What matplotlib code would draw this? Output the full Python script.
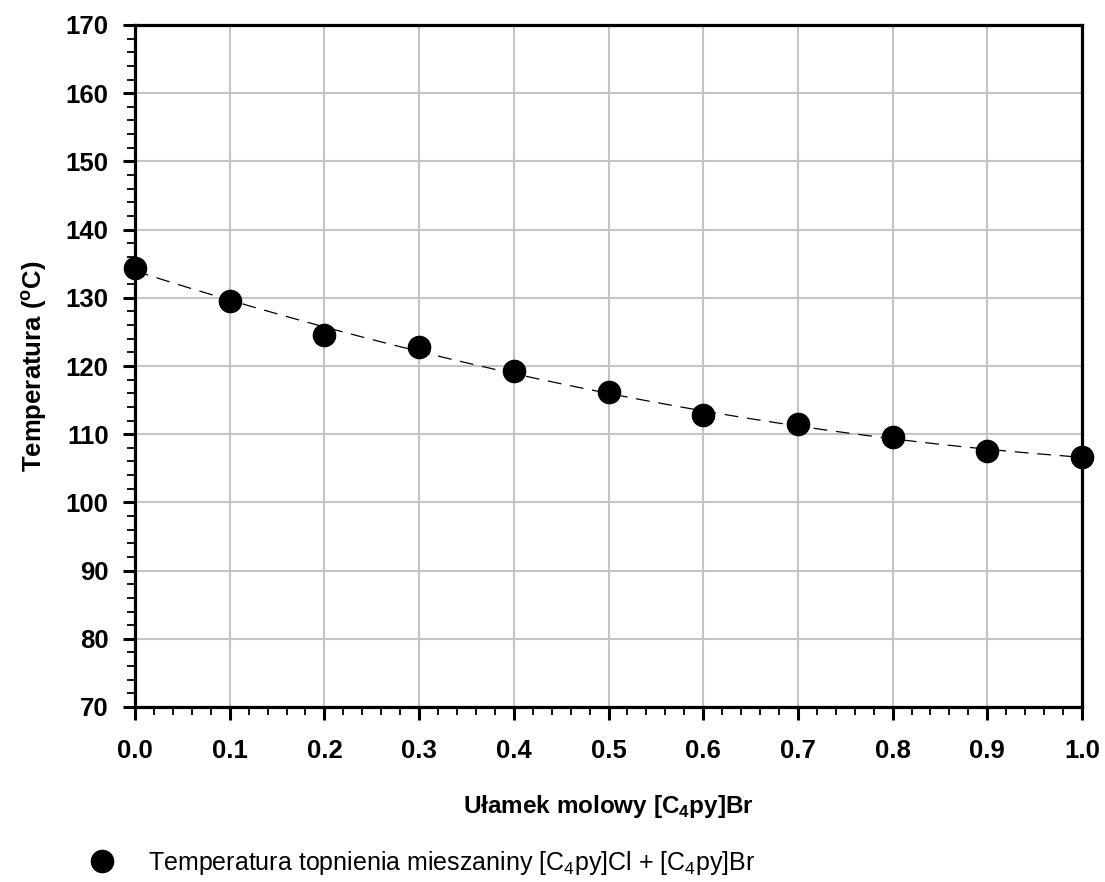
import numpy as np
import matplotlib
matplotlib.use("Agg")
import matplotlib.pyplot as plt
from matplotlib.ticker import MultipleLocator, FormatStrFormatter

plt.rcParams['font.family'] = ['Liberation Sans', 'DejaVu Sans']
plt.rcParams['mathtext.fontset'] = 'custom'
plt.rcParams['mathtext.rm'] = 'Liberation Sans'
plt.rcParams['mathtext.bf'] = 'Liberation Sans:bold'

mole_fraction = [0.0, 0.1, 0.2, 0.3, 0.4, 0.5, 0.6, 0.7, 0.8, 0.9, 1.0]
temperature = [134.4, 129.5, 124.5, 122.85, 119.25, 116.15, 112.8, 111.5, 109.55, 107.6, 106.6]

legend_label = r'Temperatura topnienia mieszaniny [C$_{\rm 4}$py]Cl + [C$_{\rm 4}$py]Br'
xlabel = r'Ułamek molowy [C$_{\bf 4}$py]Br'
ylabel = r'Temperatura ($^{\bf o}$C)'

FS = 18.5

fig = plt.figure(figsize=(11.05, 8.82), dpi=100)
ax = fig.add_axes([135/1105, 1-707/882, (1082-135)/1105, (707-25)/882])

# fit curve (quadratic through data)
coef = np.polyfit(mole_fraction, temperature, 2)
xf = np.linspace(0, 1, 200)
ax.plot(xf, np.polyval(coef, xf), color='black', lw=0.9, dashes=(11, 7), zorder=3)

sc, = ax.plot(mole_fraction, temperature, 'o', color='black', markersize=16,
              label=legend_label, zorder=4, clip_on=False)

ax.set_xlim(0, 1.0)
ax.set_ylim(70, 170)
ax.xaxis.set_major_locator(MultipleLocator(0.1))
ax.xaxis.set_minor_locator(MultipleLocator(0.02))
ax.yaxis.set_major_locator(MultipleLocator(10))
ax.yaxis.set_minor_locator(MultipleLocator(2))
ax.xaxis.set_major_formatter(FormatStrFormatter('%.1f'))

ax.grid(True, which='major', color='#c4c4c4', lw=1.5, zorder=0)
ax.set_axisbelow(True)

for s in ax.spines.values():
    s.set_linewidth(2.3)

ax.tick_params(axis='both', which='major', direction='out', length=9, width=2.2,
               labelsize=FS)
ax.tick_params(axis='both', which='minor', direction='out', length=5.5, width=1.3)
ax.tick_params(axis='x', which='major', pad=14)
ax.tick_params(axis='y', which='major', pad=10)
for lab in ax.get_xticklabels() + ax.get_yticklabels():
    lab.set_fontweight('bold')

ax.set_xlabel(xlabel, fontsize=17.5, fontweight='bold', labelpad=22)
ax.set_ylabel(ylabel, fontsize=FS, fontweight='bold', labelpad=12)

fig.legend(handles=[sc], labels=[legend_label], loc='center left',
           bbox_to_anchor=(64/1105, 1-863/882), frameon=False, fontsize=18,
           handletextpad=1.25, handlelength=1.2, markerscale=1.0)

fig.savefig('out.png', dpi=100)
